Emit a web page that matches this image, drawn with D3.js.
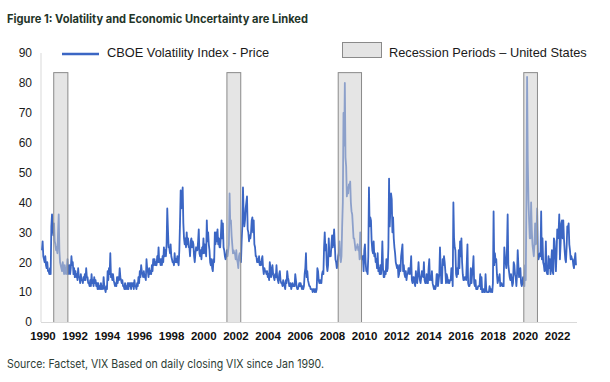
<!DOCTYPE html>
<html><head><meta charset="utf-8">
<script src="https://cdn.jsdelivr.net/npm/d3@7"></script>
<style>body{margin:0;background:#fff} svg{display:block}</style>
</head><body>
<svg id="c" width="610" height="382"></svg>
<script>
// ---- data (semi-monthly VIX readings, Jan 1990 onward) ----
const startYear = 1990;
const pointsPerYear = 24;
const vix = [
// 1990
24,27,22,21,20,22,19,18,20,17,17,16,18,16,32,36,31,29,33,27,26,24,25,23,
// 1991
30,36,24,20,19,18,17,20,18,16,19,17,16,18,21,16,17,19,16,18,22,19,20,16,
// 1992
18,15,17,15,16,14,18,15,15,13,16,14,14,13,15,14,16,14,18,15,15,13,13,12,
// 1993
14,12,16,13,14,12,15,13,14,12,13,11,13,11,12,11,13,11,12,11,15,12,11,10,
// 1994
12,11,17,14,18,16,23,15,16,14,16,14,13,12,13,12,15,13,15,14,18,15,14,13,
// 1995
14,12,12,11,13,11,12,11,13,11,13,12,13,11,13,12,13,11,14,12,12,11,13,12,
// 1996
15,13,17,15,19,17,16,15,17,15,15,14,21,18,17,15,18,16,17,16,19,17,21,19,
// 1997
21,19,20,19,22,20,25,20,21,19,21,19,22,20,25,22,24,22,26,38,31,25,25,23,
// 1998
26,22,21,20,20,19,23,20,21,20,22,20,19,24,33,44,38,42,45,33,28,26,28,25,
// 1999
30,26,28,25,25,22,27,28,25,27,26,22,20,23,25,24,24,27,31,23,22,24,21,25,
// 2000
23,28,23,26,25,22,34,27,30,26,24,20,19,21,18,17,21,20,30,26,30,27,31,26,
// 2001
28,25,25,29,34,28,33,25,24,22,21,22,24,22,24,26,43,33,34,29,26,23,24,23,
// 2002
23,21,24,21,20,18,22,23,21,20,27,32,45,36,32,34,38,40,42,31,30,27,29,28,
// 2003
30,34,35,30,34,26,25,22,22,20,21,20,22,19,20,19,21,22,18,16,18,17,17,16,
// 2004
17,15,16,14,20,18,15,17,19,16,15,14,16,15,19,15,14,13,16,17,14,13,13,12,
// 2005
14,13,12,11,14,13,17,15,14,12,12,13,11,12,13,12,12,12,16,14,12,11,11,12,
// 2006
13,12,13,12,11,12,11,12,16,18,23,15,17,14,13,12,12,11,11,11,10,11,11,10,
// 2007
11,10,11,18,17,14,13,14,13,13,16,17,16,25,30,24,26,19,17,19,28,22,23,22,
// 2008
26,29,25,27,31,26,21,20,18,19,22,23,27,22,20,22,32,40,70,59,80,55,52,42,
// 2009
45,43,46,45,47,40,37,36,32,28,28,26,24,25,25,26,24,25,21,30,24,21,21,22,
// 2010
17,24,26,20,17,17,16,22,45,32,35,34,27,24,23,27,22,23,20,21,18,23,17,18,
// 2011
16,19,16,19,27,18,15,15,17,16,21,17,18,25,48,32,38,43,41,30,35,28,25,23,
// 2012
20,19,18,19,15,16,19,17,22,24,26,17,19,16,15,17,14,16,16,18,18,16,18,22,
// 2013
14,13,15,15,13,12,17,14,13,16,20,16,14,13,15,17,16,15,20,14,13,13,16,13,
// 2014
13,18,21,14,15,14,17,13,12,11,12,11,12,16,16,12,14,16,25,18,13,13,21,19,
// 2015
22,20,17,13,16,15,13,14,13,14,14,18,17,12,40,28,25,24,16,15,18,16,24,18,
// 2016
27,22,28,20,16,14,14,15,15,14,20,26,13,12,12,13,18,13,16,18,22,13,12,14,
// 2017
11,11,11,12,12,12,16,11,15,10,10,11,10,10,16,11,10,10,10,10,12,11,10,11,
// 2018
10,13,37,19,23,20,21,16,13,14,15,16,12,13,13,12,12,12,25,21,20,18,25,36,
// 2019
19,17,15,14,16,14,12,13,20,19,16,15,12,16,24,19,15,16,18,13,12,13,15,14,
// 2020
12,19,14,40,82,54,41,34,28,28,40,31,26,24,22,26,33,26,29,38,23,21,22,23,
// 2021
22,37,21,28,20,19,17,18,27,17,16,16,22,18,21,16,20,24,17,16,28,27,22,17,
// 2022
23,31,28,30,36,21,26,33,34,28,34,28,24,21,20,25,32,31,33,26,24,21,22,21,
// 2023
21,19,18,21,23,19
];
const recessionStart = [1990.70, 2001.47, 2008.39, 2019.93];
const recessionEnd   = [1991.58, 2002.33, 2009.84, 2020.78];
const recessionTop = 83.6;
const yTicks = [0,10,20,30,40,50,60,70,80,90];
const xTickYears = [1990,1992,1994,1996,1998,2000,2002,2004,2006,2008,2010,2012,2014,2016,2018,2020,2022];
const titleText = "Figure 1: Volatility and Economic Uncertainty are Linked";
const sourceText = "Source: Factset, VIX Based on daily closing VIX since Jan 1990.";
const seriesName = "CBOE Volatility Index - Price";
const recessionName = "Recession Periods \u2013 United States";

// ---- drawing ----
const svg = d3.select("#c");
const x = d3.scaleLinear().domain([1989.94, 2023.27]).range([41, 577]);
const y = d3.scaleLinear().domain([0, 90]).range([322, 53]);
const lineColor = "#3b66c4";

const series = vix.map((v, i) => ({t: startYear + i / pointsPerYear, v}));

// axes lines
svg.append("line").attr("x1", 41).attr("x2", 41).attr("y1", y(90)).attr("y2", y(0))
  .attr("stroke", "#d9d9d9").attr("stroke-width", 1);

// line
svg.append("path").datum(series)
  .attr("fill", "none").attr("stroke", lineColor).attr("stroke-width", 1.8)
  .attr("stroke-linejoin", "round")
  .attr("d", d3.line().x(d => x(d.t)).y(d => y(d.v)));

// recession boxes (overlay)
svg.append("g").selectAll("rect").data(recessionStart.map((s, i) => ({s, e: recessionEnd[i]})))
  .join("rect")
  .attr("x", d => x(d.s) + 0.5).attr("width", d => x(d.e) - x(d.s))
  .attr("y", y(recessionTop) + 0.5).attr("height", y(0) - y(recessionTop))
  .attr("fill", "rgba(208,208,208,0.55)").attr("stroke", "#8a8a8a").attr("stroke-width", 1);

svg.append("line").attr("x1", 41).attr("x2", 577).attr("y1", y(0) + 0.5).attr("y2", y(0) + 0.5)
  .attr("stroke", "#d9d9d9").attr("stroke-width", 1.2);

// y labels
svg.append("g").selectAll("text").data(yTicks).join("text")
  .attr("x", 32).attr("y", d => y(d) + 4.3).attr("text-anchor", "end")
  .attr("font-family", "Liberation Sans, Arial, sans-serif").attr("font-size", 12)
  .attr("fill", "#1a1a1a").text(d => d);

// x labels
svg.append("g").selectAll("text").data(xTickYears).join("text")
  .attr("x", d => x(d) + 1).attr("y", 339.5).attr("text-anchor", "middle")
  .attr("font-family", "Liberation Sans, Arial, sans-serif").attr("font-size", 11.5)
  .attr("font-weight", "bold").attr("fill", "#111").text(d => d);

// legend
svg.append("line").attr("x1", 62).attr("x2", 99).attr("y1", 54).attr("y2", 54)
  .attr("stroke", lineColor).attr("stroke-width", 2.5);
svg.append("text").attr("x", 107).attr("y", 56.7)
  .attr("font-family", "Liberation Sans, Arial, sans-serif").attr("font-size", 12.8)
  .attr("fill", "#1a1a1a").text(seriesName);
svg.append("rect").attr("x", 342.5).attr("y", 42.5).attr("width", 39).attr("height", 15)
  .attr("fill", "#e4e4e4").attr("stroke", "#8a8a8a");
svg.append("text").attr("x", 389).attr("y", 56.7)
  .attr("font-family", "Liberation Sans, Arial, sans-serif").attr("font-size", 12.8)
  .attr("fill", "#1a1a1a").text(recessionName);

// title & source
svg.append("text").attr("x", 7).attr("y", 22.5)
  .attr("font-family", "Inter, Lato, sans-serif").attr("font-size", 11.5).attr("font-weight", "bold")
  .attr("fill", "#1f3529").attr("textLength", 301).attr("lengthAdjust", "spacingAndGlyphs")
  .text(titleText);
svg.append("text").attr("x", 7).attr("y", 368.3)
  .attr("font-family", "Inter, Lato, sans-serif").attr("font-size", 11.5)
  .attr("fill", "#2d3d35").attr("textLength", 317).attr("lengthAdjust", "spacingAndGlyphs")
  .text(sourceText);
</script>
</body></html>
